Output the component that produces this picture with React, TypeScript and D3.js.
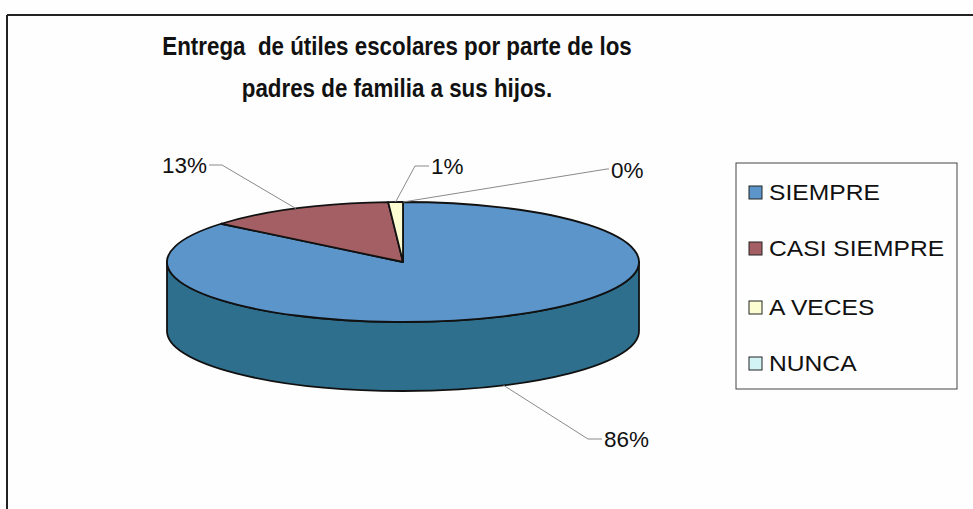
import React from "react";
import * as d3 from "d3";

const categories = ["SIEMPRE", "CASI SIEMPRE", "A VECES", "NUNCA"];
const values = [86, 13, 1, 0];
const percentLabels = ["86%", "13%", "1%", "0%"];
const titleLines = ["Entrega  de útiles escolares por parte de los", "padres de familia a sus hijos."];

const topColors = ["#5b95ca", "#a35f63", "#fdfdd2", "#d2f4f6"];
const sideColors = ["#2e6f8d", "#6e3a40", "#c8c896", "#9cc4c8"];

const W = 973, H = 509;
const cx = 403, cy = 262, rx = 236, ry = 60, depth = 69;
const FONT = "'Liberation Sans', Arial, sans-serif";

const labelLayout: Record<string, { lx: number; ly: number; ex: number; ey: number; anchor: string; side: boolean }> = {
  "SIEMPRE": { lx: 604, ly: 447, ex: 588, ey: 439, anchor: "start", side: true },
  "CASI SIEMPRE": { lx: 207, ly: 173, ex: 222, ey: 165, anchor: "end", side: false },
  "A VECES": { lx: 431, ly: 174, ex: 415, ey: 166, anchor: "start", side: false },
  "NUNCA": { lx: 611, ly: 178, ex: 607, ey: 169, anchor: "start", side: false },
};

function pt(a: number, dy = 0): [number, number] {
  return [cx + rx * Math.sin(a), cy - ry * Math.cos(a) + dy];
}

export default function App() {
  const pie = d3.pie<number>().sort(null).value((d) => d)(values);

  const topPaths = pie.map((s, i) => {
    if (s.endAngle - s.startAngle <= 0) return null;
    const [x0, y0] = pt(s.startAngle);
    const [x1, y1] = pt(s.endAngle);
    const large = s.endAngle - s.startAngle > Math.PI ? 1 : 0;
    const d = `M${cx},${cy}L${x0},${y0}A${rx},${ry} 0 ${large} 1 ${x1},${y1}Z`;
    return <path key={"t" + i} d={d} fill={topColors[i]} stroke="#111" strokeWidth={1.8} strokeLinejoin="round" />;
  });

  const sidePaths = pie.map((s, i) => {
    const a0 = Math.max(s.startAngle, Math.PI / 2);
    const a1 = Math.min(s.endAngle, (3 * Math.PI) / 2);
    if (a1 <= a0) return null;
    const [x0, y0] = pt(a0);
    const [x1, y1] = pt(a1);
    const [x1b, y1b] = pt(a1, depth);
    const [x0b, y0b] = pt(a0, depth);
    const large = a1 - a0 > Math.PI ? 1 : 0;
    const d = `M${x0},${y0}A${rx},${ry} 0 ${large} 1 ${x1},${y1}L${x1b},${y1b}A${rx},${ry} 0 ${large} 0 ${x0b},${y0b}Z`;
    return <path key={"s" + i} d={d} fill={sideColors[i]} stroke="#111" strokeWidth={1.8} strokeLinejoin="round" />;
  });

  const labels = pie.map((s, i) => {
    const L = labelLayout[categories[i]];
    const mid = (s.startAngle + s.endAngle) / 2;
    const [ax, ay] = pt(mid, L.side ? depth : 0);
    const tx = L.anchor === "start" ? L.lx - 2 : L.lx + 2;
    return (
      <g key={"l" + i}>
        <polyline points={`${ax},${ay} ${L.ex},${L.ey} ${tx},${L.ey}`} fill="none" stroke="#8a8a8a" strokeWidth={1} />
        <text x={L.lx} y={L.ly} textAnchor={L.anchor as any} fontFamily={FONT} fontSize={22.5} fill="#111">
          {percentLabels[i]}
        </text>
      </g>
    );
  });

  const legendX = 736, legendY = 163, legendW = 221, legendH = 226;
  const legendRows = [192, 248, 307, 363];

  return (
    <svg width={W} height={H} style={{ position: "absolute", left: 0, top: 0, background: "#ffffff" }}>
      <rect x={0} y={0} width={W} height={H} fill="#fefefe" />
      <line x1={7} y1={15} x2={W} y2={15} stroke="#222" strokeWidth={2} />
      <line x1={7} y1={15} x2={7} y2={H} stroke="#222" strokeWidth={2} />
      {titleLines.map((t, i) => (
        <text key={t} transform={`translate(397,${55 + i * 42}) scale(0.86,1)`} textAnchor="middle" fontFamily={FONT} fontWeight="bold" fontSize={26} fill="#111" style={{ whiteSpace: "pre" }}>
          {t}
        </text>
      ))}
      {sidePaths}
      {topPaths}
      {labels}
      <rect x={legendX} y={legendY} width={legendW} height={legendH} fill="#fefefe" stroke="#444" strokeWidth={1} />
      {categories.map((c, i) => (
        <g key={c}>
          <rect x={749} y={legendRows[i] - 6} width={13} height={13} fill={topColors[i]} stroke="#222" strokeWidth={1} />
          <text transform={`translate(769,${legendRows[i] + 8}) scale(1.12,1)`} fontFamily={FONT} fontSize={22} fill="#111">{c}</text>
        </g>
      ))}
    </svg>
  );
}
